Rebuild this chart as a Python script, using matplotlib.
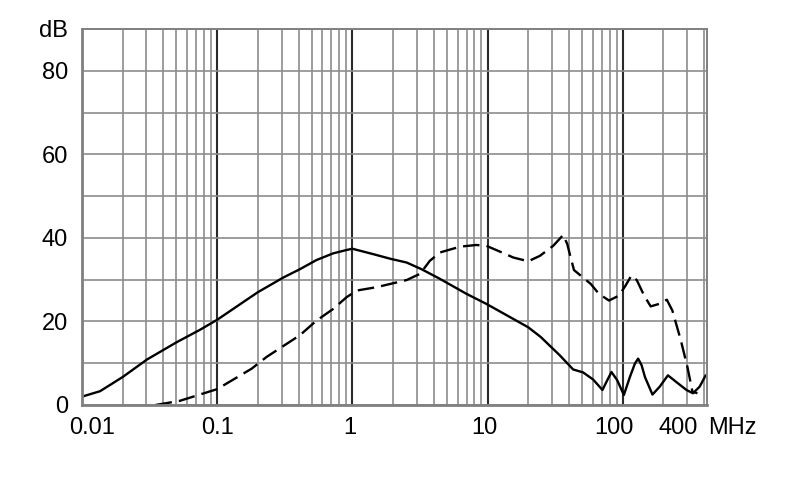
import numpy as np
import matplotlib
matplotlib.use("Agg")
import matplotlib.pyplot as plt
from matplotlib.ticker import LogLocator, NullFormatter

plt.rcParams['font.family'] = ['Liberation Sans', 'DejaVu Sans']

# solid curve (MHz, dB)
solid_f = [0.01, 0.0136, 0.02, 0.0303, 0.05, 0.0746, 0.1, 0.2, 0.308, 0.409,
           0.543, 0.722, 0.906, 1.0, 1.43, 1.91, 2.52, 3.25, 4.44, 6.99, 9.8,
           15.5, 20, 24.7, 34.2, 43, 50.9, 60.4, 70.8, 75.7, 82.5, 90.8, 102,
           113, 123, 130, 138, 146, 166, 188, 216, 249, 296, 331, 371, 411]
solid_db = [2.0, 3.3, 6.7, 10.9, 15.0, 18.0, 20.4, 27.0, 30.5, 32.5,
            34.7, 36.3, 37.1, 37.4, 36.1, 35.0, 34.1, 32.5, 30.2, 26.6, 24.2,
            20.6, 18.6, 16.3, 11.9, 8.5, 7.8, 6.1, 3.6, 5.5, 7.9, 6.0, 2.4,
            6.7, 9.9, 11.1, 9.5, 6.7, 2.5, 4.4, 7.1, 5.5, 3.6, 2.8, 4.4, 7.1]

# dashed curve (MHz, dB)
dash_f = [0.035, 0.053, 0.1, 0.18, 0.232, 0.409, 0.543, 0.722, 0.906, 1.08,
          1.51, 2.52, 3.17, 3.74, 4.44, 6.27, 8.25, 9.8, 13.0, 15.5, 20, 24.4,
          30.6, 36.3, 38.9, 40.6, 43.6, 57.9, 66.7, 79.2, 94, 105, 116, 127,
          144, 161, 186, 212, 233, 269, 301, 328, 357]
dash_db = [0.0, 1.0, 3.8, 8.7, 11.5, 16.7, 20.2, 23.0, 25.8, 27.4,
           28.2, 29.9, 31.4, 34.5, 36.5, 37.9, 38.3, 38.1, 36.4, 35.3, 34.4, 35.7,
           38.1, 40.7, 38.5, 36.1, 32.3, 29.0, 26.6, 25.0, 26.2, 28.6, 31.0, 29.9,
           26.2, 23.6, 24.2, 25.2, 22.6, 15.5, 9.1, 3.2, 2.8]

x_ticks = [0.01, 0.1, 1, 10, 100, 400]
x_labels = ['0.01', '0.1', '1', '10', '100', '400']
y_ticks = [0, 20, 40, 60, 80, 90]
y_labels = ['0', '20', '40', '60', '80', 'dB']

fig = plt.figure(figsize=(7.9, 4.99), dpi=100)
ax = fig.add_axes([0.1038, 0.1884, 0.7911, 0.7535])
ax.set_xscale('log')
ax.set_xlim(0.01, 420)
ax.set_ylim(0, 90)

ax.set_xticks([0.01, 0.1, 1, 10, 100])
ax.xaxis.set_minor_locator(LogLocator(base=10, subs=np.arange(2, 10), numticks=20))
ax.xaxis.set_minor_formatter(NullFormatter())
ax.set_xticklabels([])
ax.set_yticks(y_ticks)
ax.set_yticklabels(y_labels)
ax.set_yticks([10, 30, 50, 70], minor=True)
ax.tick_params(which='both', length=0)
ax.tick_params(axis='y', labelsize=17, pad=10)

ax.xaxis.grid(True, which='major', color='#2a2a2a', linewidth=1.5)
ax.xaxis.grid(True, which='minor', color='#8c8c8c', linewidth=1.2)
ax.yaxis.grid(True, which='both', color='#8c8c8c', linewidth=1.2)
ax.set_axisbelow(True)
for s in ax.spines.values():
    s.set_color('#808080')
    s.set_linewidth(1.4)
ax.spines['left'].set_linewidth(2)
ax.spines['bottom'].set_linewidth(2)

ax.plot(solid_f, solid_db, color='black', linewidth=1.7,
        solid_joinstyle='round', solid_capstyle='round')
ax.plot(dash_f, dash_db, color='black', linewidth=1.7, linestyle=(0, (7, 3)),
        dash_joinstyle='round')

# x tick labels, nudged as in the original drawing
offsets = [7, 0, -2, -2, -6, -19]
for f, lab, dx in zip(x_ticks, x_labels, offsets):
    ax.annotate(lab, xy=(f, 0), xycoords=('data', 'axes fraction'),
                xytext=(dx, -9), textcoords='offset points',
                ha='center', va='top', fontsize=17)
ax.annotate('MHz', xy=(1, 0), xycoords='axes fraction', xytext=(1, -9),
            textcoords='offset points', ha='left', va='top', fontsize=17)

fig.savefig('out.png', dpi=100)
